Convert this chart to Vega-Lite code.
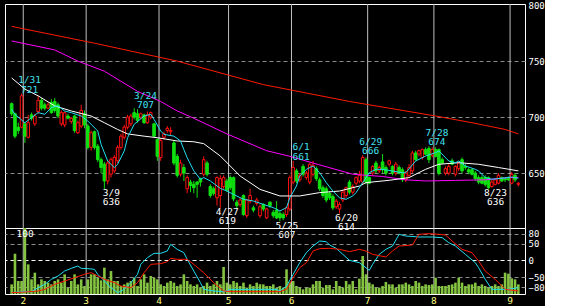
{
"$schema":"https://vega.github.io/schema/vega-lite/v6.json",
"background":"#000000",
"padding":{"left":4,"top":0,"right":0,"bottom":0},
"spacing":0,
"bounds":"flush",
"config":{"view":{"stroke":"#ffffff","strokeWidth":1},"text":{"font":"DejaVu Sans Mono"},"axis":{"labelFont":"DejaVu Sans Mono"}},
"datasets":{
"k":[
{"i":0,"o":712,"h":713,"l":701,"c":703,"v":14.6},{"i":1,"o":703,"h":704,"l":681,"c":683,"v":61.1},{"i":2,"o":691,"h":695,"l":685,"c":688,"v":19.7},{"i":3,"o":691,"h":721,"l":690,"c":719,"v":19.7},{"i":4,"o":694,"h":695,"l":677,"c":683,"v":100},{"i":5,"o":682,"h":702,"l":681,"c":695,"v":44.9},{"i":6,"o":702,"h":704,"l":697,"c":699,"v":22.2},{"i":7,"o":694,"h":703,"l":692,"c":701,"v":32.3},{"i":8,"o":705,"h":719,"l":703,"c":715,"v":14.6},{"i":9,"o":715,"h":717,"l":706,"c":708,"v":22.2},
{"i":10,"o":711,"h":713,"l":706,"c":708,"v":19.7},{"i":11,"o":708,"h":713,"l":707,"c":711,"v":17.2},{"i":12,"o":713,"h":716,"l":703,"c":704,"v":14.6},{"i":13,"o":714,"h":717,"l":704,"c":706,"v":19.7},{"i":14,"o":711,"h":713,"l":699,"c":701,"v":22.2},{"i":15,"o":694,"h":706,"l":692,"c":704,"v":17.2},{"i":16,"o":693,"h":705,"l":691,"c":704,"v":29.8},{"i":17,"o":701,"h":703,"l":698,"c":699,"v":9.6},{"i":18,"o":696,"h":700,"l":694,"c":699,"v":19.7},{"i":19,"o":701,"h":702,"l":686,"c":688,"v":29.8},
{"i":20,"o":686,"h":697,"l":685,"c":695,"v":14.6},{"i":21,"o":692,"h":711,"l":690,"c":706,"v":22.2},{"i":22,"o":703,"h":706,"l":690,"c":693,"v":12.1},{"i":23,"o":692,"h":694,"l":671,"c":673,"v":22.2},{"i":24,"o":673,"h":688,"l":670,"c":686,"v":29.8},{"i":25,"o":687,"h":688,"l":671,"c":673,"v":29.8},{"i":26,"o":674,"h":676,"l":660,"c":662,"v":24.7},{"i":27,"o":662,"h":664,"l":650,"c":655,"v":20.7},{"i":28,"o":658,"h":660,"l":636,"c":643,"v":39.9},{"i":29,"o":643,"h":661,"l":640,"c":659,"v":22.2},
{"i":30,"o":649,"h":664,"l":646,"c":662,"v":34.8},{"i":31,"o":652,"h":666,"l":650,"c":664,"v":19.7},{"i":32,"o":661,"h":675,"l":659,"c":673,"v":19.7},{"i":33,"o":673,"h":685,"l":671,"c":683,"v":12.1},{"i":34,"o":682,"h":693,"l":680,"c":691,"v":14.6},{"i":35,"o":691,"h":702,"l":689,"c":700,"v":17.2},{"i":36,"o":694,"h":703,"l":692,"c":701,"v":19.7},{"i":37,"o":704,"h":708,"l":698,"c":700,"v":24.7},{"i":38,"o":703,"h":707,"l":695,"c":697,"v":12.1},{"i":39,"o":700,"h":704,"l":698,"c":703,"v":22.2},
{"i":40,"o":702,"h":703,"l":694,"c":695,"v":29.8},{"i":41,"o":695,"h":705,"l":694,"c":702,"v":17.2},{"i":42,"o":700,"h":705,"l":698,"c":704,"v":27.3},{"i":43,"o":694,"h":695,"l":682,"c":683,"v":24.7},{"i":44,"o":680,"h":681,"l":661,"c":665,"v":22.2},{"i":45,"o":664,"h":681,"l":661,"c":679,"v":14.6},{"i":46,"o":682,"h":687,"l":680,"c":685,"v":12.1},{"i":47,"o":688,"h":692,"l":686,"c":690,"v":17.2},{"i":48,"o":687,"h":691,"l":684,"c":688,"v":19.7},{"i":49,"o":677,"h":679,"l":657,"c":659,"v":17.2},
{"i":50,"o":665,"h":667,"l":646,"c":648,"v":12.1},{"i":51,"o":649,"h":662,"l":647,"c":659,"v":14.6},{"i":52,"o":655,"h":658,"l":643,"c":650,"v":29.8},{"i":53,"o":636,"h":648,"l":632,"c":646,"v":19.7},{"i":54,"o":642,"h":644,"l":633,"c":639,"v":14.6},{"i":55,"o":640,"h":643,"l":632,"c":637,"v":12.1},{"i":56,"o":642,"h":643,"l":628,"c":640,"v":14.6},{"i":57,"o":645,"h":646,"l":638,"c":642,"v":9.6},{"i":58,"o":649,"h":665,"l":647,"c":662,"v":12.1},{"i":59,"o":659,"h":661,"l":647,"c":649,"v":17.2},
{"i":60,"o":638,"h":640,"l":628,"c":630,"v":12.1},{"i":61,"o":636,"h":638,"l":630,"c":632,"v":14.6},{"i":62,"o":628,"h":647,"l":621,"c":646,"v":19.7},{"i":63,"o":630,"h":648,"l":619,"c":645,"v":14.6},{"i":64,"o":638,"h":648,"l":636,"c":646,"v":40.9},{"i":65,"o":643,"h":645,"l":633,"c":635,"v":17.2},{"i":66,"o":646,"h":648,"l":635,"c":637,"v":14.6},{"i":67,"o":646,"h":647,"l":625,"c":627,"v":19.7},{"i":68,"o":624,"h":626,"l":618,"c":621,"v":17.2},{"i":69,"o":622,"h":628,"l":620,"c":626,"v":12.1},
{"i":70,"o":630,"h":631,"l":612,"c":613,"v":17.2},{"i":71,"o":612,"h":627,"l":610,"c":626,"v":9.6},{"i":72,"o":625,"h":636,"l":623,"c":630,"v":14.6},{"i":73,"o":619,"h":621,"l":615,"c":617,"v":12.1},{"i":74,"o":623,"h":628,"l":621,"c":626,"v":17.2},{"i":75,"o":612,"h":622,"l":610,"c":620,"v":14.6},{"i":76,"o":622,"h":623,"l":616,"c":618,"v":14.6},{"i":77,"o":610,"h":619,"l":609,"c":618,"v":12.1},{"i":78,"o":624,"h":625,"l":619,"c":621,"v":12.1},{"i":79,"o":615,"h":617,"l":610,"c":612,"v":14.6},
{"i":80,"o":617,"h":625,"l":609,"c":610,"v":9.6},{"i":81,"o":614,"h":616,"l":607,"c":610,"v":12.1},{"i":82,"o":613,"h":615,"l":608,"c":610,"v":9.6},{"i":83,"o":613,"h":620,"l":611,"c":619,"v":37.4},{"i":84,"o":618,"h":648,"l":616,"c":646,"v":17.2},{"i":85,"o":642,"h":661,"l":640,"c":655,"v":19.7},{"i":86,"o":652,"h":654,"l":641,"c":643,"v":12.1},{"i":87,"o":644,"h":650,"l":642,"c":648,"v":9.6},{"i":88,"o":656,"h":658,"l":647,"c":649,"v":7.1},{"i":89,"o":646,"h":652,"l":644,"c":650,"v":9.6},
{"i":90,"o":642,"h":659,"l":640,"c":658,"v":9.6},{"i":91,"o":649,"h":661,"l":647,"c":657,"v":14.6},{"i":92,"o":654,"h":656,"l":643,"c":645,"v":19.7},{"i":93,"o":644,"h":646,"l":634,"c":636,"v":19.7},{"i":94,"o":637,"h":639,"l":628,"c":630,"v":9.6},{"i":95,"o":636,"h":638,"l":624,"c":626,"v":13.6},{"i":96,"o":632,"h":634,"l":626,"c":628,"v":13.6},{"i":97,"o":629,"h":631,"l":617,"c":619,"v":7.1},{"i":98,"o":620,"h":627,"l":618,"c":625,"v":19.7},{"i":99,"o":618,"h":624,"l":614,"c":622,"v":12.1},
{"i":100,"o":626,"h":635,"l":624,"c":633,"v":9.6},{"i":101,"o":630,"h":638,"l":628,"c":637,"v":19.7},{"i":102,"o":642,"h":644,"l":631,"c":633,"v":14.6},{"i":103,"o":633,"h":640,"l":631,"c":638,"v":19.7},{"i":104,"o":641,"h":647,"l":639,"c":646,"v":7.1},{"i":105,"o":643,"h":652,"l":641,"c":648,"v":23.2},{"i":106,"o":642,"h":666,"l":640,"c":664,"v":57.6},{"i":107,"o":662,"h":664,"l":640,"c":642,"v":29.8},{"i":108,"o":646,"h":647,"l":640,"c":641,"v":17.2},{"i":109,"o":650,"h":657,"l":648,"c":656,"v":14.6},
{"i":110,"o":659,"h":661,"l":650,"c":652,"v":9.6},{"i":111,"o":652,"h":657,"l":650,"c":655,"v":9.6},{"i":112,"o":660,"h":667,"l":650,"c":653,"v":12.1},{"i":113,"o":655,"h":657,"l":648,"c":650,"v":18.2},{"i":114,"o":658,"h":662,"l":656,"c":661,"v":14.6},{"i":115,"o":656,"h":657,"l":648,"c":650,"v":14.6},{"i":116,"o":650,"h":660,"l":648,"c":658,"v":9.6},{"i":117,"o":655,"h":657,"l":649,"c":650,"v":14.6},{"i":118,"o":653,"h":655,"l":642,"c":644,"v":14.6},{"i":119,"o":644,"h":652,"l":642,"c":650,"v":17.2},
{"i":120,"o":648,"h":658,"l":646,"c":655,"v":14.6},{"i":121,"o":652,"h":670,"l":650,"c":668,"v":12.1},{"i":122,"o":668,"h":670,"l":661,"c":662,"v":19.7},{"i":123,"o":667,"h":671,"l":665,"c":670,"v":17.2},{"i":124,"o":664,"h":672,"l":662,"c":671,"v":12.1},{"i":125,"o":671,"h":673,"l":666,"c":667,"v":14.6},{"i":126,"o":672,"h":674,"l":659,"c":662,"v":13.6},{"i":127,"o":666,"h":673,"l":664,"c":671,"v":14.6},{"i":128,"o":671,"h":673,"l":664,"c":665,"v":24.7},{"i":129,"o":671,"h":672,"l":648,"c":650,"v":12.1},
{"i":130,"o":662,"h":664,"l":658,"c":659,"v":12.1},{"i":131,"o":650,"h":656,"l":648,"c":654,"v":12.1},{"i":132,"o":650,"h":658,"l":648,"c":656,"v":13.6},{"i":133,"o":661,"h":663,"l":657,"c":658,"v":14.6},{"i":134,"o":649,"h":657,"l":647,"c":656,"v":17.2},{"i":135,"o":654,"h":660,"l":652,"c":659,"v":24.7},{"i":136,"o":662,"h":664,"l":650,"c":652,"v":17.2},{"i":137,"o":656,"h":658,"l":653,"c":655,"v":12.1},{"i":138,"o":653,"h":655,"l":649,"c":651,"v":14.6},{"i":139,"o":653,"h":654,"l":648,"c":649,"v":14.6},
{"i":140,"o":650,"h":652,"l":643,"c":645,"v":17.2},{"i":141,"o":646,"h":648,"l":640,"c":642,"v":12.1},{"i":142,"o":646,"h":648,"l":640,"c":641,"v":14.6},{"i":143,"o":646,"h":648,"l":638,"c":640,"v":12.1},{"i":144,"o":646,"h":647,"l":636,"c":637,"v":9.6},{"i":145,"o":638,"h":644,"l":637,"c":642,"v":12.1},{"i":146,"o":640,"h":645,"l":639,"c":644,"v":14.6},{"i":147,"o":641,"h":650,"l":640,"c":648,"v":12.1},{"i":148,"o":646,"h":647,"l":642,"c":643,"v":14.6},{"i":149,"o":645,"h":646,"l":642,"c":644,"v":32.3},
{"i":150,"o":646,"h":647,"l":643,"c":644,"v":30.8},{"i":151,"o":641,"h":651,"l":640,"c":649,"v":23.7},{"i":152,"o":648,"h":650,"l":642,"c":644,"v":22.2},{"i":153,"o":640,"h":642,"l":638,"c":641,"v":14.6}
],
"ma":[
{"s":"r","i":0,"p":781},{"s":"r","i":25,"p":766},{"s":"r","i":50,"p":750},{"s":"r","i":76,"p":729},{"s":"r","i":102,"p":714},{"s":"r","i":128,"p":701},{"s":"r","i":139,"p":695},{"s":"r","i":149,"p":689},{"s":"r","i":153,"p":685},
{"s":"m","i":0,"p":768},{"s":"m","i":13,"p":760},{"s":"m","i":20,"p":750},{"s":"m","i":28,"p":741},{"s":"m","i":38,"p":723},{"s":"m","i":45,"p":714},{"s":"m","i":50,"p":705.5},{"s":"m","i":55,"p":699},{"s":"m","i":65,"p":685},{"s":"m","i":77,"p":670},{"s":"m","i":84,"p":665},{"s":"m","i":91,"p":659},{"s":"m","i":103,"p":649},{"s":"m","i":112,"p":647},{"s":"m","i":119,"p":644},{"s":"m","i":125,"p":643},{"s":"m","i":134,"p":643.5},{"s":"m","i":143,"p":644},{"s":"m","i":150,"p":646},{"s":"m","i":153,"p":646},
{"s":"w","i":0,"p":735},{"s":"w","i":4,"p":725},{"s":"w","i":8,"p":719},{"s":"w","i":13,"p":710},{"s":"w","i":18,"p":705.5},{"s":"w","i":24,"p":701},{"s":"w","i":28,"p":695},{"s":"w","i":32,"p":689},{"s":"w","i":35,"p":685},{"s":"w","i":40,"p":683},{"s":"w","i":44,"p":681.6},{"s":"w","i":50,"p":678.7},{"s":"w","i":55,"p":678},{"s":"w","i":58,"p":676.3},{"s":"w","i":63,"p":665.3},{"s":"w","i":69,"p":647.4},{"s":"w","i":75,"p":635.5},{"s":"w","i":81,"p":629.6},{"s":"w","i":87,"p":629.6},{"s":"w","i":93,"p":632.6},{"s":"w","i":99,"p":634},{"s":"w","i":105,"p":638.5},{"s":"w","i":107,"p":641.5},{"s":"w","i":114,"p":643.6},{"s":"w","i":120,"p":646},{"s":"w","i":125,"p":653.4},{"s":"w","i":129,"p":657.9},{"s":"w","i":135,"p":659.3},{"s":"w","i":141,"p":657.9},{"s":"w","i":147,"p":655},{"s":"w","i":153,"p":652},
{"s":"c","i":0,"p":707},{"s":"c","i":1,"p":702.5},{"s":"c","i":4,"p":695},{"s":"c","i":6,"p":699.5},{"s":"c","i":8,"p":704},{"s":"c","i":10,"p":702.5},{"s":"c","i":12,"p":708.5},{"s":"c","i":14,"p":710},{"s":"c","i":16,"p":705.5},{"s":"c","i":18,"p":704},{"s":"c","i":21,"p":701},{"s":"c","i":23,"p":696.5},{"s":"c","i":26,"p":687.6},{"s":"c","i":27,"p":675.7},{"s":"c","i":29,"p":660.8},{"s":"c","i":31,"p":654.9},{"s":"c","i":32,"p":657.9},{"s":"c","i":34,"p":669.8},{"s":"c","i":35,"p":681.6},{"s":"c","i":37,"p":693.6},{"s":"c","i":40,"p":701},{"s":"c","i":42,"p":702.5},{"s":"c","i":43,"p":698},{"s":"c","i":45,"p":687.6},{"s":"c","i":46,"p":684.6},{"s":"c","i":49,"p":683},{"s":"c","i":51,"p":678.7},{"s":"c","i":52,"p":671},{"s":"c","i":53,"p":663.8},{"s":"c","i":55,"p":652},{"s":"c","i":57,"p":644.5},{"s":"c","i":58,"p":646},{"s":"c","i":60,"p":643},{"s":"c","i":63,"p":636.4},{"s":"c","i":65,"p":634},{"s":"c","i":67,"p":631},{"s":"c","i":70,"p":626.6},{"s":"c","i":73,"p":625.1},{"s":"c","i":76,"p":622.1},{"s":"c","i":79,"p":619.2},{"s":"c","i":81,"p":616.2},{"s":"c","i":83,"p":619.2},{"s":"c","i":84,"p":628},{"s":"c","i":86,"p":638.5},{"s":"c","i":87,"p":647.4},{"s":"c","i":89,"p":653.4},{"s":"c","i":91,"p":656.4},{"s":"c","i":93,"p":650.4},{"s":"c","i":95,"p":641.5},{"s":"c","i":97,"p":634},{"s":"c","i":99,"p":628},{"s":"c","i":101,"p":626.6},{"s":"c","i":103,"p":629.6},{"s":"c","i":104,"p":632.6},{"s":"c","i":106,"p":641.5},{"s":"c","i":108,"p":650.4},{"s":"c","i":110,"p":653.4},{"s":"c","i":112,"p":653.4},{"s":"c","i":115,"p":651.9},{"s":"c","i":118,"p":650.4},{"s":"c","i":119,"p":650.4},{"s":"c","i":122,"p":660.8},{"s":"c","i":125,"p":665.3},{"s":"c","i":128,"p":668.3},{"s":"c","i":129,"p":669.8},{"s":"c","i":132,"p":660.8},{"s":"c","i":134,"p":659.3},{"s":"c","i":135,"p":660.8},{"s":"c","i":137,"p":656.4},{"s":"c","i":140,"p":653.4},{"s":"c","i":141,"p":651.9},{"s":"c","i":143,"p":646},{"s":"c","i":145,"p":644.5},{"s":"c","i":148,"p":645.4},{"s":"c","i":151,"p":646.5},{"s":"c","i":153,"p":645.4}
],
"osc":[
{"s":"c","i":0,"v":-97},{"s":"c","i":3,"v":-94},{"s":"c","i":6,"v":-94},{"s":"c","i":8,"v":-82},{"s":"c","i":10,"v":-72},{"s":"c","i":12,"v":-57},{"s":"c","i":14,"v":-47},{"s":"c","i":16,"v":-32},{"s":"c","i":18,"v":-24},{"s":"c","i":20,"v":-17},{"s":"c","i":21,"v":-24},{"s":"c","i":23,"v":-25},{"s":"c","i":25,"v":-27},{"s":"c","i":26,"v":-42},{"s":"c","i":28,"v":-62},{"s":"c","i":30,"v":-82},{"s":"c","i":32,"v":-97},{"s":"c","i":34,"v":-87},{"s":"c","i":36,"v":-67},{"s":"c","i":38,"v":-42},{"s":"c","i":39,"v":-12},{"s":"c","i":41,"v":8},{"s":"c","i":43,"v":21},{"s":"c","i":45,"v":21},{"s":"c","i":47,"v":28},{"s":"c","i":48,"v":48},{"s":"c","i":50,"v":33},{"s":"c","i":52,"v":23},{"s":"c","i":53,"v":3},{"s":"c","i":55,"v":-32},{"s":"c","i":57,"v":-67},{"s":"c","i":58,"v":-87},{"s":"c","i":61,"v":-92},{"s":"c","i":64,"v":-94},{"s":"c","i":66,"v":-87},{"s":"c","i":69,"v":-87},{"s":"c","i":80,"v":-87},{"s":"c","i":81,"v":-92},{"s":"c","i":83,"v":-77},{"s":"c","i":85,"v":-42},{"s":"c","i":87,"v":-7},{"s":"c","i":89,"v":23},{"s":"c","i":91,"v":43},{"s":"c","i":93,"v":58},{"s":"c","i":95,"v":56},{"s":"c","i":96,"v":46},{"s":"c","i":98,"v":36},{"s":"c","i":100,"v":18},{"s":"c","i":102,"v":0},{"s":"c","i":105,"v":-7},{"s":"c","i":108,"v":-30},{"s":"c","i":109,"v":-12},{"s":"c","i":111,"v":18},{"s":"c","i":113,"v":33},{"s":"c","i":115,"v":43},{"s":"c","i":117,"v":78},{"s":"c","i":119,"v":73},{"s":"c","i":123,"v":70},{"s":"c","i":127,"v":70},{"s":"c","i":130,"v":68},{"s":"c","i":132,"v":53},{"s":"c","i":134,"v":43},{"s":"c","i":137,"v":18},{"s":"c","i":140,"v":-7},{"s":"c","i":141,"v":-22},{"s":"c","i":143,"v":-57},{"s":"c","i":145,"v":-87},{"s":"c","i":148,"v":-87},{"s":"c","i":150,"v":-87},{"s":"c","i":153,"v":-82},
{"s":"r","i":0,"v":-97},{"s":"r","i":4,"v":-95},{"s":"r","i":8,"v":-92},{"s":"r","i":10,"v":-87},{"s":"r","i":13,"v":-72},{"s":"r","i":16,"v":-62},{"s":"r","i":19,"v":-52},{"s":"r","i":22,"v":-42},{"s":"r","i":24,"v":-37},{"s":"r","i":26,"v":-47},{"s":"r","i":28,"v":-57},{"s":"r","i":31,"v":-67},{"s":"r","i":33,"v":-77},{"s":"r","i":36,"v":-82},{"s":"r","i":38,"v":-67},{"s":"r","i":40,"v":-37},{"s":"r","i":42,"v":-12},{"s":"r","i":45,"v":-10},{"s":"r","i":47,"v":-4},{"s":"r","i":48,"v":6},{"s":"r","i":50,"v":3},{"s":"r","i":53,"v":3},{"s":"r","i":55,"v":-12},{"s":"r","i":58,"v":-37},{"s":"r","i":61,"v":-67},{"s":"r","i":64,"v":-92},{"s":"r","i":67,"v":-94},{"s":"r","i":81,"v":-94},{"s":"r","i":83,"v":-87},{"s":"r","i":85,"v":-52},{"s":"r","i":87,"v":-22},{"s":"r","i":89,"v":-7},{"s":"r","i":91,"v":28},{"s":"r","i":93,"v":35},{"s":"r","i":96,"v":36},{"s":"r","i":99,"v":33},{"s":"r","i":102,"v":26},{"s":"r","i":105,"v":33},{"s":"r","i":107,"v":28},{"s":"r","i":109,"v":18},{"s":"r","i":113,"v":10},{"s":"r","i":115,"v":28},{"s":"r","i":117,"v":43},{"s":"r","i":121,"v":46},{"s":"r","i":123,"v":78},{"s":"r","i":126,"v":80},{"s":"r","i":129,"v":78},{"s":"r","i":131,"v":76},{"s":"r","i":133,"v":58},{"s":"r","i":136,"v":33},{"s":"r","i":139,"v":23},{"s":"r","i":141,"v":-2},{"s":"r","i":143,"v":-32},{"s":"r","i":146,"v":-57},{"s":"r","i":149,"v":-87},{"s":"r","i":153,"v":-92}
],
"mo":[{"b":3.5,"m":"2"},{"b":22.5,"m":"3"},{"b":44.5,"m":"4"},{"b":65.5,"m":"5"},{"b":84.5,"m":"6"},{"b":107.5,"m":"7"},{"b":127.5,"m":"8"},{"b":150.5,"m":"9"}],
"hi":[{"i":3,"p":721,"d":"1/31"},{"i":38,"p":707,"d":"3/24"},{"i":85,"p":661,"d":"6/1"},{"i":106,"p":666,"d":"6/29"},{"i":126,"p":674,"d":"7/28"}],
"lo":[{"i":28,"p":636,"d":"3/9"},{"i":63,"p":619,"d":"4/27"},{"i":81,"p":607,"d":"5/25"},{"i":99,"p":614,"d":"6/20"},{"i":144,"p":636,"d":"8/23"}]
},
"vconcat":[
{"width":520,"height":224,
"layer":[
{"data":{"name":"mo"},"mark":{"type":"rule","color":"#c0c0c0","strokeWidth":1},
 "encoding":{"x":{"field":"b","type":"quantitative","scale":{"domain":[-0.5,153.5],"nice":false,"zero":false},"axis":null}}},
{"data":{"name":"k"},"mark":{"type":"rule","strokeWidth":1},
 "encoding":{"x":{"field":"i","type":"quantitative","scale":{"domain":[-0.5,153.5],"nice":false,"zero":false},"axis":null},
 "y":{"field":"l","type":"quantitative","scale":{"domain":[601,801],"nice":false,"zero":false},
   "axis":{"orient":"right","values":[650,700,750,800],"title":null,"ticks":false,"domain":false,"labelColor":"#ffffff","labelFontSize":9,"labelPadding":3,"grid":true,"gridColor":"#8a8a8a","gridDash":[4,3],"gridOpacity":{"condition":{"test":"datum.value >= 800","value":0},"value":1}}},
 "y2":{"field":"h"},
 "color":{"condition":{"test":"datum.c >= datum.o","value":"#ff1010"},"value":"#10e010"}}},
{"data":{"name":"k"},"mark":{"type":"bar","width":2.6,"strokeWidth":1},
 "encoding":{"x":{"field":"i","type":"quantitative","scale":{"domain":[-0.5,153.5],"nice":false,"zero":false},"axis":null},
 "y":{"field":"o","type":"quantitative","title":null},"y2":{"field":"c"},
 "fill":{"condition":{"test":"datum.c >= datum.o","value":"#000000"},"value":"#10e010"},
 "stroke":{"condition":{"test":"datum.c >= datum.o","value":"#ff1010"},"value":"#10e010"}}},
{"data":{"name":"ma"},"mark":{"type":"line","strokeWidth":1},
 "encoding":{"x":{"field":"i","type":"quantitative","scale":{"domain":[-0.5,153.5],"nice":false,"zero":false},"axis":null},
 "y":{"field":"p","type":"quantitative","title":null},
 "color":{"field":"s","type":"nominal","scale":{"domain":["r","m","w","c"],"range":["#ff1a00","#ff00ff","#ffffff","#20e0f0"]},"legend":null}}},
{"data":{"name":"hi"},"mark":{"type":"text","color":"#40e0f0","fontSize":9.5,"align":"center","baseline":"alphabetic","dx":8,"dy":-1},
 "encoding":{"x":{"field":"i","type":"quantitative","scale":{"domain":[-0.5,153.5],"nice":false,"zero":false},"axis":null},"y":{"field":"p","type":"quantitative","title":null},"text":{"field":"p"}}},
{"data":{"name":"hi"},"mark":{"type":"text","color":"#40e0f0","fontSize":9.5,"align":"center","baseline":"alphabetic","dx":8,"dy":-10.5},
 "encoding":{"x":{"field":"i","type":"quantitative","scale":{"domain":[-0.5,153.5],"nice":false,"zero":false},"axis":null},"y":{"field":"p","type":"quantitative","title":null},"text":{"field":"d"}}},
{"data":{"name":"lo"},"mark":{"type":"text","color":"#ffffff","fontSize":9.5,"align":"center","baseline":"alphabetic","dx":7,"dy":7.5},
 "encoding":{"x":{"field":"i","type":"quantitative","scale":{"domain":[-0.5,153.5],"nice":false,"zero":false},"axis":null},"y":{"field":"p","type":"quantitative","title":null},"text":{"field":"d"}}},
{"data":{"name":"lo"},"mark":{"type":"text","color":"#ffffff","fontSize":9.5,"align":"center","baseline":"alphabetic","dx":7,"dy":16.5},
 "encoding":{"x":{"field":"i","type":"quantitative","scale":{"domain":[-0.5,153.5],"nice":false,"zero":false},"axis":null},"y":{"field":"p","type":"quantitative","title":null},"text":{"field":"p"}}}
]},
{"width":520,"height":66,
"layer":[
{"data":{"name":"mo"},"mark":{"type":"rule","color":"#c0c0c0","strokeWidth":1},
 "encoding":{"x":{"field":"b","type":"quantitative","scale":{"domain":[-0.5,153.5],"nice":false,"zero":false},"axis":null}}},
{"data":{"name":"k"},"mark":{"type":"bar","width":2.6,"color":"#84c440"},
 "encoding":{"x":{"field":"i","type":"quantitative","scale":{"domain":[-0.5,153.5],"nice":false,"zero":false},"axis":null},
 "y":{"field":"v","type":"quantitative","scale":{"domain":[0,100],"nice":false},"axis":null}}},
{"data":{"name":"osc"},"mark":{"type":"line","strokeWidth":1},
 "encoding":{"x":{"field":"i","type":"quantitative","scale":{"domain":[-0.5,153.5],"nice":false,"zero":false},"axis":null},
 "y":{"field":"v","type":"quantitative","scale":{"domain":[-101,97],"nice":false,"zero":false},
   "axis":{"orient":"right","values":[-80,-50,0,50,80],"title":null,"ticks":false,"domain":false,"labelColor":"#ffffff","labelFontSize":9,"labelPadding":3,"grid":true,"gridDash":[4,3],"gridColor":{"condition":{"test":"datum.value === 0","value":"#ffffff"},"value":"#8a8a8a"}}},
 "color":{"field":"s","type":"nominal","scale":{"domain":["c","r"],"range":["#20e8f8","#ff2020"]},"legend":null}}},
{"data":{"name":"mo"},"mark":{"type":"text","color":"#ffff80","fontSize":9.5,"align":"center","baseline":"top","dy":2},
 "encoding":{"x":{"field":"b","type":"quantitative","scale":{"domain":[-0.5,153.5],"nice":false,"zero":false},"axis":null},
 "y":{"datum":-101,"type":"quantitative","scale":{"domain":[-101,97],"nice":false,"zero":false},"axis":null},
 "text":{"field":"m"}}},
{"data":{"values":[{"t":"100","vol":100}]},"mark":{"type":"text","color":"#ffffff","fontSize":9.5,"align":"left","baseline":"top","dy":1},
 "encoding":{"x":{"datum":1.5,"type":"quantitative","scale":{"domain":[-0.5,153.5],"nice":false,"zero":false},"axis":null},
 "y":{"field":"vol","type":"quantitative","scale":{"domain":[0,100],"nice":false},"axis":null},
 "text":{"field":"t"}}}
],
"resolve":{"scale":{"y":"independent"}}}
]
}
